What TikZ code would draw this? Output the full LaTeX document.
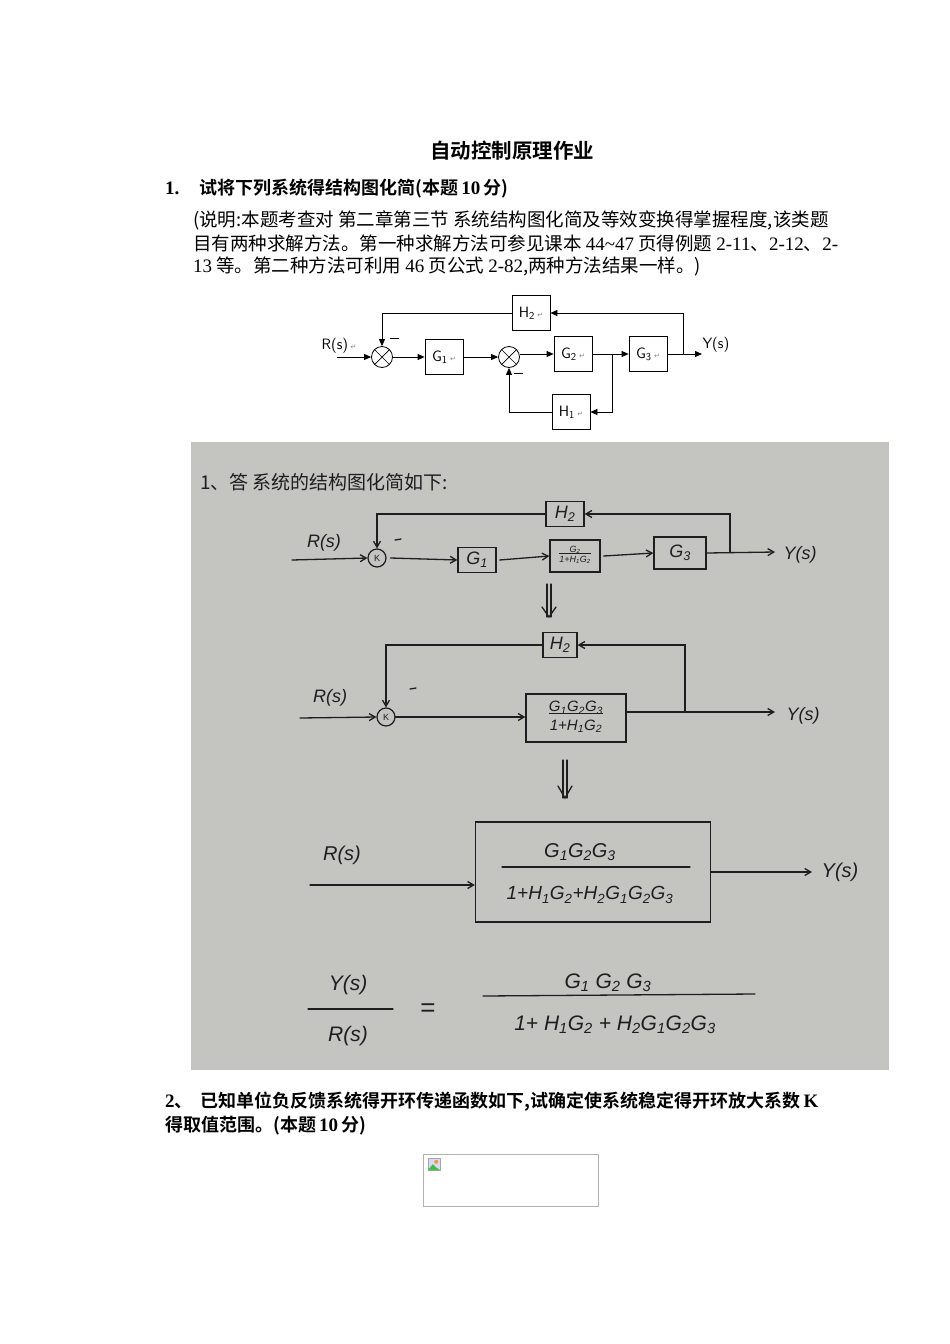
\documentclass[tikz,border=0pt]{standalone}
\usepackage{fontspec}
\setmainfont{Liberation Serif}
\newfontfamily\cjk{Noto Sans CJK SC}
\newfontfamily\cjkb{Noto Sans CJK SC Bold}
\newfontfamily\dvs{DejaVu Sans}
\newfontfamily\hand{Liberation Sans}
\usetikzlibrary{arrows.meta}
\definecolor{photo}{RGB}{196,196,192}
\definecolor{ink}{RGB}{30,30,30}
\tikzset{
  blk/.style={draw,line width=0.8pt,minimum width=38pt,minimum height=35pt,font=\sffamily\fontsize{15}{15}\selectfont},
  sumj/.style={draw,circle,line width=0.8pt,minimum size=21pt,inner sep=0pt,path picture={\draw[line width=0.7pt] (path picture bounding box.north west)--(path picture bounding box.south east) (path picture bounding box.north east)--(path picture bounding box.south west);}},
  sig/.style={line width=0.8pt,-{Triangle[length=7pt,width=6pt]}},
  hl/.style={ink,line width=1.3pt,line cap=round},
  ha/.style={hl,-{Straight Barb[length=6pt,width=7pt]}},
  hbox/.style={draw=ink,line width=1.3pt,inner sep=2pt},
  ht/.style={ink,font=\hand\itshape\fontsize{18}{18}\selectfont,inner sep=0pt},
  txt/.style={anchor=west,inner sep=0pt,font=\cjk\fontsize{18.5}{18.5}\selectfont},
  bt/.style={anchor=west,inner sep=0pt,font=\cjkb\fontsize{18}{18}\selectfont},
}
\newcommand{\rt}{\,{\dvs\fontsize{7}{7}\selectfont\color{gray}↵}}
\newcommand{\Lt}[1]{{\rmfamily\fontsize{19}{19}\selectfont #1}}
\newcommand{\hfr}[2]{\begin{tabular}{@{}c@{}}#1\\[-3pt]\hline\rule{0pt}{1.1em}#2\end{tabular}}
\begin{document}
\begin{tikzpicture}[x=1pt,y=-1pt]
\useasboundingbox (0,0) rectangle (950,1344);
\fill[white] (0,0) rectangle (950,1344);
% header text
\node[font=\cjkb\fontsize{20.5}{20.5}\selectfont] (title) at (512,151) {自动控制原理作业};
\node[bt] (q1) at (165,189) {\textbf{\Lt{1.}}\hspace{20pt}试将下列系统得结构图化简(本题\,\textbf{\Lt{10}}\,分)};
\node[txt] (p1) at (193,220) {(说明:本题考查对 第二章第三节 系统结构图化简及等效变换得掌握程度,该类题};
\node[txt] (p2) at (193,243) {目有两种求解方法。第一种求解方法可参见课本 \Lt{44\textasciitilde47} 页得例题 \Lt{2-11}、\Lt{2-12}、\Lt{2-}};
\node[txt] (p3) at (193,266) {\Lt{13} 等。第二种方法可利用 \Lt{46} 页公式 \Lt{2-82},两种方法结果一样。)};
% block diagram
\node[sumj] (s1) at (382,357) {};
\node[sumj] (s2) at (509,357) {};
\node[blk] (g1) at (444,357) {G\textsubscript{1}\rt};
\node[blk] (g2) at (573,354) {G\textsubscript{2}\rt};
\node[blk] (g3) at (648,354) {G\textsubscript{3}\rt};
\node[blk] (h2) at (531,313) {H\textsubscript{2}\rt};
\node[blk] (h1) at (571,412) {H\textsubscript{1}\rt};
\node[font=\sffamily\fontsize{15}{15}\selectfont,anchor=east] (rs) at (360,346) {R(s)\rt};
\node[font=\sffamily\fontsize{15}{15}\selectfont,anchor=west] (ys) at (699,345) {Y(s)};
\coordinate (in) at (337,357);
\coordinate (out) at (702,354);
\coordinate (b2) at (683,354);
\coordinate (b1) at (612,354);
\draw[sig] (in) -- (s1.west);
\draw[sig] (s1.east) -- (g1.west);
\draw[sig] (g1.east) -- (s2.west);
\draw[sig] (s2.east |- g2.west) -- (g2.west);
\draw[sig] (g2.east) -- (g3.west);
\draw[sig] (g3.east) -- (out);
\draw[sig] (b2) |- (h2.east);
\draw[sig] (h2.west) -| (s1.north);
\draw[sig] (b1) |- (h1.east);
\draw[sig] (h1.west) -| (s2.south);
\coordinate (m1a) at (390,338); \coordinate (m1b) at (399,338);
\coordinate (m2a) at (514,373); \coordinate (m2b) at (523,373);
\draw[line width=0.9pt] (m1a) -- (m1b) (m2a) -- (m2b);
% photo
\fill[photo] (191,442) rectangle (889,1070);
\node[ht,anchor=west,font=\cjk\fontsize{19}{19}\selectfont] (htitle) at (200,482) {1、答 系统的结构图化简如下:};
% stage 1
\node[ht] (r1) at (324,543) {R(s)};
\node[draw=ink,line width=1.2pt,circle,minimum size=18pt,inner sep=0pt,ht,font=\hand\fontsize{9}{9}\selectfont] (k1) at (377,558) {K};
\node[hbox,ht,minimum width=38pt,minimum height=25pt] (ag1) at (477,560) {G\textsubscript{1}};
\node[hbox,ht,minimum width=50pt,minimum height=32pt,font=\hand\itshape\fontsize{9}{9}\selectfont] (ag2) at (575,556) {\hfr{G\textsubscript{2}}{1+H\textsubscript{1}G\textsubscript{2}}};
\node[hbox,ht,minimum width=52pt,minimum height=32pt] (ag3) at (680,553) {G\textsubscript{3}};
\node[hbox,ht,minimum width=38pt,minimum height=25pt] (ah2) at (565,514) {H\textsubscript{2}};
\node[ht] (y1) at (800,555) {Y(s)};
\coordinate (ai1) at (292,560);
\coordinate (ao1) at (775,552);
\coordinate (ab1) at (730,552);
\draw[ha] (ai1) -- (k1.west);
\draw[ha] (k1.east) ++(4,0) -- (ag1.west);
\draw[ha] (ag1.east) ++(3,0) -- (ag2.west);
\draw[ha] (ag2.east) ++(3,0) -- (ag3.west);
\draw[ha] (ag3.east) -- (ao1);
\draw[ha] (ab1) |- (ah2.east);
\draw[ha] (ah2.west) -| (k1.north);
\coordinate (am1a) at (395,540); \coordinate (am1b) at (401,539);
\draw[hl] (am1a) -- (am1b);
% double arrow 1
\coordinate (da1) at (549,584);
\coordinate (db1) at (549,617);
\draw[hl] ([xshift=-2pt]da1) -- ([xshift=-2pt]db1) ([xshift=2pt]da1) -- ([xshift=2pt]db1);
\draw[hl] ([xshift=-7pt,yshift=10pt]db1) -- (db1) -- ([xshift=7pt,yshift=10pt]db1);
% stage 2
\node[ht] (r2) at (330,698) {R(s)};
\node[draw=ink,line width=1.2pt,circle,minimum size=18pt,inner sep=0pt,ht,font=\hand\fontsize{9}{9}\selectfont] (k2) at (386,717) {K};
\node[hbox,ht,minimum width=100pt,minimum height=48pt,font=\hand\itshape\fontsize{15}{15}\selectfont] (bg) at (576,718) {\hfr{G\textsubscript{1}G\textsubscript{2}G\textsubscript{3}}{1+H\textsubscript{1}G\textsubscript{2}}};
\node[hbox,ht,minimum width=34pt,minimum height=25pt] (bh2) at (560,645) {H\textsubscript{2}};
\node[ht] (y2) at (803,716) {Y(s)};
\coordinate (bi) at (300,718);
\coordinate (bo) at (775,712);
\coordinate (bb) at (685,712);
\draw[ha] (bi) -- (k2.west);
\draw[ha] (k2.east) -- (bg.west |- k2.east);
\draw[ha] (bg.east |- bo) -- (bo);
\draw[ha] (bb) |- (bh2.east);
\draw[ha] (bh2.west) -| (k2.north);
\coordinate (bma) at (410,689); \coordinate (bmb) at (416,688);
\draw[hl] (bma) -- (bmb);
% double arrow 2
\coordinate (da2) at (565,760);
\coordinate (db2) at (565,798);
\draw[hl] ([xshift=-2pt]da2) -- ([xshift=-2pt]db2) ([xshift=2pt]da2) -- ([xshift=2pt]db2);
\draw[hl] ([xshift=-7pt,yshift=12pt]db2) -- (db2) -- ([xshift=7pt,yshift=12pt]db2);
% stage 3
\node[draw=ink,line width=1.3pt,minimum width=235pt,minimum height=100pt] (cb) at (593,872) {};
\node[ht,font=\hand\itshape\fontsize{20}{20}\selectfont] (cn) at (580,852) {G\textsubscript{1}G\textsubscript{2}G\textsubscript{3}};
\node[ht,font=\hand\itshape\fontsize{19}{19}\selectfont] (cd) at (590,895) {1+H\textsubscript{1}G\textsubscript{2}+H\textsubscript{2}G\textsubscript{1}G\textsubscript{2}G\textsubscript{3}};
\coordinate (cl1) at (502,867);
\coordinate (cl2) at (690,867);
\draw[hl] (cl1) -- (cl2);
\node[ht,font=\hand\itshape\fontsize{20}{20}\selectfont] (r3) at (342,855) {R(s)};
\node[ht,font=\hand\itshape\fontsize{20}{20}\selectfont] (y3) at (840,872) {Y(s)};
\coordinate (ci) at (310,885);
\coordinate (co) at (812,872);
\draw[ha] (ci) -- (cb.west |- ci);
\draw[ha] (cb.east |- co) -- (co);
% equation
\node[ht,font=\hand\itshape\fontsize{21}{21}\selectfont] (ey) at (348,985) {Y(s)};
\node[ht,font=\hand\itshape\fontsize{21}{21}\selectfont] (er) at (348,1036) {R(s)};
\coordinate (el1) at (308,1009);
\coordinate (el2) at (393,1009);
\draw[hl] (el1) -- (el2);
\node[ht,font=\hand\fontsize{26}{26}\selectfont] (eq) at (428,1010) {=};
\node[ht,font=\hand\itshape\fontsize{21}{21}\selectfont] (en) at (608,983) {G\textsubscript{1} G\textsubscript{2} G\textsubscript{3}};
\node[ht,font=\hand\itshape\fontsize{21}{21}\selectfont] (ed) at (615,1025) {1+ H\textsubscript{1}G\textsubscript{2} + H\textsubscript{2}G\textsubscript{1}G\textsubscript{2}G\textsubscript{3}};
\coordinate (fl1) at (483,996);
\coordinate (fl2) at (755,994);
\draw[hl] (fl1) -- (fl2);
% question 2
\node[bt] (q2a) at (165,1102) {\textbf{\Lt{2}}、\hspace{8pt}已知单位负反馈系统得开环传递函数如下,试确定使系统稳定得开环放大系数\,\textbf{\Lt{K}}};
\node[bt] (q2b) at (165,1126) {得取值范围。(本题\,\textbf{\Lt{10}}\,分)};
\node[draw=gray!60,line width=0.6pt,minimum width=175pt,minimum height=52pt] (img) at (510.5,1180) {};
\node[draw=gray!70,fill=blue!15,minimum size=12pt,inner sep=0pt] (icon) at (434,1164) {};
\fill[green!50!gray] (icon.south west) -- ++(5,-6) -- ++(3,3) -- (icon.south east) -- cycle;
\fill[orange!80] (icon.north east) ++(-4,4) circle (2pt);
\end{tikzpicture}
\end{document}
